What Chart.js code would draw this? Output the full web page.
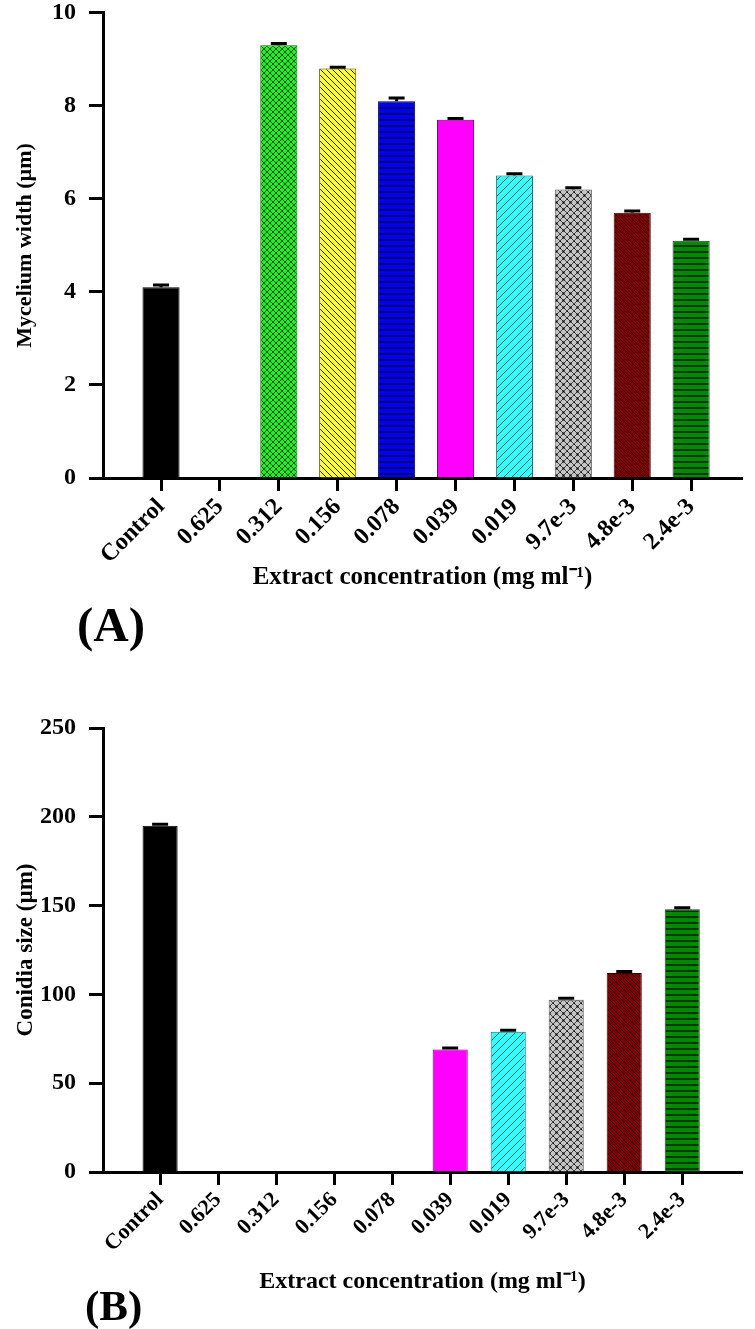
<!DOCTYPE html>
<html>
<head>
<meta charset="utf-8">
<script src="https://cdn.jsdelivr.net/npm/chart.js@4.4.1/dist/chart.umd.min.js"></script>
<style>
  body { margin: 0; background: #fff; width: 755px; height: 1329px; position: relative; overflow: hidden; }
  canvas { position: absolute; left: 0; }
  #chartA { top: -11px; }
  #chartB { top: 660px; }
  .panel { position: absolute; font-family: 'Liberation Serif', 'Times New Roman', serif; font-weight: bold; line-height: 1; color: #000; }
</style>
</head>
<body>
<canvas id="chartA" width="755" height="612"></canvas>
<canvas id="chartB" width="755" height="669"></canvas>
<div class="panel" style="left:77px; top:600px; font-size:49px;">(A)</div>
<div class="panel" style="left:85px; top:1284px; font-size:43px;">(B)</div>
<script>
// Data
const categories = ['Control', '0.625', '0.312', '0.156', '0.078', '0.039', '0.019', '9.7e-3', '4.8e-3', '2.4e-3'];
const myceliumWidth = [4.1, 0, 9.3, 8.8, 8.1, 7.7, 6.5, 6.2, 5.7, 5.1];
const myceliumErr = [0.05, 0, 0.04, 0.03, 0.07, 0.03, 0.04, 0.04, 0.04, 0.03];
const conidiaSize = [195, 0, 0, 0, 0, 69, 79, 97, 112, 148];
const conidiaErr = [0.8, 0, 0, 0, 0, 0.8, 0.8, 0.8, 0.9, 0.8];
const widthTicks = [0, 2, 4, 6, 8, 10];
const sizeTicks = [0, 50, 100, 150, 200, 250];

const serif = "'Liberation Serif', 'Times New Roman', serif";

// Hatch fills, one per category
function makePattern(bg, line, kind, s) {
    const c = document.createElement('canvas');
    c.width = s; c.height = s;
    const g = c.getContext('2d');
    g.fillStyle = bg;
    g.fillRect(0, 0, s, s);
    g.strokeStyle = line;
    g.lineWidth = kind === 'horiz' ? 1.6 : 1;
    g.beginPath();
    if (kind === 'horiz') {
        g.moveTo(0, s - 1); g.lineTo(s, s - 1);
    }
    if (kind === 'back' || kind === 'cross') {
        for (let k = -1; k <= 1; k++) { g.moveTo(k * s, 0); g.lineTo(k * s + s, s); }
    }
    if (kind === 'fwd' || kind === 'cross') {
        for (let k = -1; k <= 1; k++) { g.moveTo(k * s, s); g.lineTo(k * s + s, 0); }
    }
    g.stroke();
    if (kind === 'cross' && s > 6) {
        g.fillStyle = '#000';
        g.fillRect(s / 2 - 1, s / 2 - 1, 2, 2);
        g.fillRect(0, 0, 1, 1);
    }
    return g.createPattern(c, 'repeat');
}

const fills = [
    '#000000',
    'rgba(0,0,0,0)',
    makePattern('#22ee22', '#005500', 'cross', 6),
    makePattern('#ffff33', '#222200', 'back', 6),
    makePattern('#0000f0', '#000055', 'horiz', 6),
    '#ff00ff',
    makePattern('#33ffff', '#116666', 'fwd', 8),
    makePattern('#c4c4c4', '#444444', 'cross', 7),
    makePattern('#7a0000', '#2a0000', 'back', 6),
    makePattern('#008a00', '#002200', 'horiz', 6)
];
const edges = ['#000', '#000', '#116611', '#444400', '#000066', '#660066', '#226666', '#555555', '#330000', '#224422'];

// Error bar caps
const errorBars = {
    id: 'errorBars',
    afterDatasetsDraw(chart) {
        const { ctx } = chart;
        const y = chart.scales.y;
        const ds = chart.data.datasets[0];
        const meta = chart.getDatasetMeta(0);
        ctx.save();
        ctx.strokeStyle = '#000';
        ctx.lineWidth = 3;
        meta.data.forEach((bar, i) => {
            const v = ds.data[i].y;
            if (!v) return;
            const top = y.getPixelForValue(v + ds.errors[i]);
            ctx.beginPath();
            ctx.moveTo(bar.x, y.getPixelForValue(v));
            ctx.lineTo(bar.x, top);
            ctx.moveTo(bar.x - 8, top);
            ctx.lineTo(bar.x + 8, top);
            ctx.stroke();
        });
        ctx.restore();
    }
};

function drawPanel(id, values, errors, yTicks, yTitle, cfg) {
    const step = yTicks[1] - yTicks[0];
    new Chart(document.getElementById(id), {
        type: 'bar',
        data: {
            datasets: [{
                data: values.map((v, i) => ({ x: i, y: v })),
                errors: errors,
                backgroundColor: fills,
                borderColor: edges,
                borderWidth: 1,
                borderSkipped: 'bottom',
                categoryPercentage: 1,
                barPercentage: cfg.barPct
            }]
        },
        options: {
            responsive: false,
            animation: false,
            devicePixelRatio: 1,
            layout: { padding: { left: 0, right: 13, top: cfg.top, bottom: 0 } },
            plugins: { legend: { display: false }, tooltip: { enabled: false } },
            scales: {
                x: {
                    type: 'linear',
                    bounds: 'data',
                    offset: false,
                    min: cfg.xMin,
                    max: cfg.xMax,
                    afterBuildTicks: s => { s.ticks = categories.map((c, i) => ({ value: i })); },
                    afterFit: s => { s.height = cfg.xHeight; },
                    ticks: {
                        callback: v => categories[v],
                        autoSkip: false,
                        minRotation: 45,
                        maxRotation: 45,
                        padding: 2,
                        color: '#000',
                        font: { family: serif, size: cfg.xFont, weight: 'bold' }
                    },
                    grid: { offset: false, drawOnChartArea: false, tickLength: 13, tickWidth: 3, tickColor: '#000' },
                    border: { color: '#000', width: 3 },
                    title: {
                        display: true,
                        text: 'Extract concentration (mg ml\u207B\u00B9)',
                        color: '#000',
                        font: { family: serif, size: cfg.xTitleFont, weight: 'bold' },
                        padding: { top: 0, bottom: cfg.xTitlePad }
                    }
                },
                y: {
                    min: yTicks[0],
                    max: yTicks[yTicks.length - 1],
                    afterFit: s => { s.width = 103; },
                    ticks: {
                        stepSize: step,
                        padding: 13,
                        color: '#000',
                        font: { family: serif, size: cfg.yFont, weight: 'bold', lineHeight: 0.9 }
                    },
                    grid: { drawOnChartArea: false, tickLength: 14, tickWidth: 3, tickColor: '#000' },
                    border: { color: '#000', width: 3 },
                    title: {
                        display: true,
                        text: yTitle,
                        color: '#000',
                        font: { family: serif, size: cfg.yTitleFont, weight: 'bold' },
                        padding: { top: 12, bottom: 0 }
                    }
                }
            }
        },
        plugins: [errorBars]
    });
}

window.onload = function() {
    drawPanel('chartA', myceliumWidth, myceliumErr, widthTicks, 'Mycelium width (\u00B5m)', {
        top: 0, xMin: -0.985, xMax: 9.864, xHeight: 123, barPct: 0.63,
        xFont: 24, yFont: 24, yTitleFont: 22, xTitleFont: 25, xTitlePad: 8
    });
    drawPanel('chartB', conidiaSize, conidiaErr, sizeTicks, 'Conidia size (\u00B5m)', {
        top: 68, xMin: -0.984, xMax: 10.03, xHeight: 157, barPct: 0.605,
        xFont: 22, yFont: 24, yTitleFont: 23, xTitleFont: 24, xTitlePad: 32.6
    });
};
</script>
</body>
</html>
